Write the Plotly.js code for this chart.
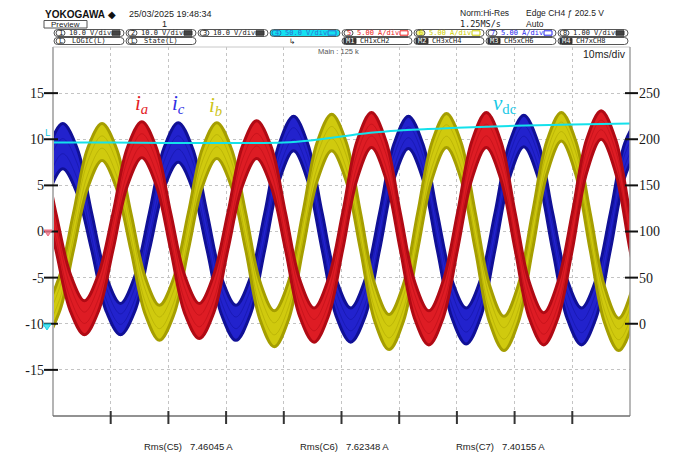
<!DOCTYPE html>
<html><head><meta charset="utf-8">
<script src="https://cdn.plot.ly/plotly-3.0.1.min.js"></script>
<style>html,body{margin:0;padding:0;background:#fff;}#chart{width:677px;height:452px;}</style>
</head><body><div id="chart"></div>
<script>
// ---- data read from the screen capture (time in ms, current in A, voltage in V) ----
// each phase is a thick persistence band: upper and lower edges of the band
const redTime  = [-4.5,-2.0,0.5,3.0,5.45,7.9,10.4,12.9,15.4,17.9,20.4,22.85,25.35,27.8,30.3,32.8,35.3,37.8,40.3,42.75,45.25,47.7,50.2,52.7,55.2,57.7,60.2,62.65,65.15,67.6,70.1,72.6,75.1,77.6,80.1,82.55,85.05,87.5,90.0,92.5,95.0,97.5,100.0,102.5,104.95];
const redUpper = [11.6,8.9,2.0,-4.6,-7.5,-4.6,2.0,9.1,11.9,9.1,2.0,-4.8,-7.8,-4.8,2.0,9.2,12.0,9.2,2.0,-5.2,-8.3,-5.2,2.0,9.8,12.9,9.8,2.0,-5.4,-8.6,-5.4,2.0,9.8,12.9,9.8,2.0,-5.5,-8.8,-5.5,2.0,10.0,13.1,10.0,2.0,-5.7,-9.0];
const redLower = [7.8,4.8,-2.0,-8.6,-11.2,-8.6,-2.0,5.0,8.0,5.0,-2.0,-8.9,-11.6,-8.9,-2.0,4.9,7.9,4.9,-2.0,-9.2,-12.0,-9.2,-2.0,5.7,9.1,5.7,-2.0,-9.4,-12.3,-9.4,-2.0,5.7,9.1,5.7,-2.0,-9.4,-12.3,-9.4,-2.0,6.4,10.0,6.4,-2.0,-9.5,-12.4];

const blueTime  = [-8.3,-5.8,-3.3,-0.8,1.7,4.2,6.7,9.2,11.7,14.2,16.7,19.2,21.7,24.2,26.7,29.2,31.7,34.2,36.7,39.2,41.7,44.15,46.65,49.1,51.6,54.1,56.6,59.1,61.6,64.1,66.6,69.1,71.6,74.1,76.6,79.1,81.6,84.1,86.6,89.1,91.6,94.1,96.6,99.1,101.6];
const blueUpper = [-7.6,-4.7,2.0,9.0,11.7,9.0,2.0,-4.8,-7.8,-4.8,2.0,9.0,11.8,9.0,2.0,-5.0,-8.0,-5.0,2.0,9.5,12.5,9.5,2.0,-5.2,-8.3,-5.2,2.0,9.5,12.5,9.5,2.0,-5.2,-8.3,-5.2,2.0,9.6,12.6,9.6,2.0,-5.2,-8.3,-5.2,2.0,9.6,12.6];
const blueLower = [-11.2,-8.6,-2.0,4.1,6.8,4.1,-2.0,-8.6,-11.2,-8.6,-2.0,4.6,7.5,4.6,-2.0,-9.0,-11.8,-9.0,-2.0,5.5,8.75,5.5,-2.0,-9.2,-12.0,-9.2,-2.0,5.7,9.0,5.7,-2.0,-9.3,-12.2,-9.3,-2.0,5.8,9.2,5.8,-2.0,-9.4,-12.3,-9.4,-2.0,5.9,9.3];

const yellowTime  = [-6.45,-3.95,-1.45,1.05,3.55,6.0,8.5,11.0,13.5,16.0,18.45,20.95,23.45,25.9,28.4,30.9,33.4,35.85,38.35,40.85,43.3,45.8,48.3,50.8,53.3,55.75,58.25,60.75,63.2,65.7,68.2,70.7,73.2,75.65,78.15,80.65,83.1,85.6,88.1,90.6,93.1,95.55,98.05,100.55,103.0];
const yellowUpper = [2.0,-5.0,-8.0,-5.0,2.0,9.0,11.7,9.0,2.0,-5.0,-8.0,-5.0,2.0,9.0,11.8,9.0,2.0,-5.4,-8.6,-5.4,2.0,9.7,12.7,9.7,2.0,-5.7,-9.0,-5.7,2.0,9.7,12.8,9.7,2.0,-5.8,-9.2,-5.8,2.0,9.8,12.9,9.8,2.0,-5.9,-9.4,-5.9,2.0];
const yellowLower = [-2.0,-8.8,-11.5,-8.8,-2.0,4.7,7.7,4.7,-2.0,-9.0,-11.8,-9.0,-2.0,4.9,7.9,4.9,-2.0,-9.5,-12.5,-9.5,-2.0,5.5,8.75,5.5,-2.0,-9.7,-12.8,-9.7,-2.0,5.7,9.1,5.7,-2.0,-9.8,-12.9,-9.8,-2.0,6.2,9.8,6.2,-2.0,-9.8,-12.9,-9.8,-2.0];

const vdcTime  = [0,10,20,30,40,45,50,55,60,65,70,80,90,100];
const vdcValue = [196.5,196.5,196,196,196.5,199,203,207,209.5,211,212.5,214.5,216,217];

const leftTicks  = [-15,-10,-5,0,5,10,15];
const rightTicks = [0,50,100,150,200,250];
const timeTicks  = [10,20,30,40,50,60,70,80,90];

const rmsLabels = ['Rms(C5)   7.46045 A','Rms(C6)   7.62348 A','Rms(C7)   7.40155 A'];
const chNumbers = ['1','2','3','4','5','6','7','8'];
const chScales  = ['10.0 V/div','10.0 V/div','10.0 V/div','50.0 V/div','5.00 A/div','5.00 A/div','5.00 A/div','1.00 V/div'];
const row2Tags  = ['L','L','','','M1','M2','M3','M4'];
const row2Text  = ['LOGIC(L)','State(L)','','','CH1xCH2','CH3xCH4','CH5xCH6','CH7xCH8'];

// ---- geometry helpers (pixel -> paper) ----
const L=53,R=630,T=47,B=416;
const X = x => (x-L)/(R-L);
const Y = y => (B-y)/(B-T);

const col = {
  red:   {fill:'rgb(222,28,36)',  line:'rgb(176,10,20)'},
  blue:  {fill:'rgb(34,34,205)',  line:'rgb(16,16,150)'},
  yellow:{fill:'rgb(208,202,14)', line:'rgb(165,158,0)'}
};

function band(t, lo, up, c){
  const tr = [
    {x:t, y:lo, type:'scatter', mode:'lines', line:{shape:'spline', color:c.line, width:3}, opacity:0.93, hoverinfo:'skip', showlegend:false},
    {x:t, y:up, type:'scatter', mode:'lines', fill:'tonexty', fillcolor:c.fill, line:{shape:'spline', color:c.line, width:3}, opacity:0.93, hoverinfo:'skip', showlegend:false}
  ];
  // faint inner striations of the persistence band (derived from the two edges)
  [1/3, 2/3].forEach(f => tr.push({x:t, y:lo.map((v,i)=>v+(up[i]-v)*f), type:'scatter', mode:'lines', line:{shape:'spline', color:c.line, width:1}, opacity:0.45, hoverinfo:'skip', showlegend:false}));
  return tr;
}

const data = [
  ...band(blueTime, blueLower, blueUpper, col.blue),
  ...band(yellowTime, yellowLower, yellowUpper, col.yellow),
  ...band(redTime, redLower, redUpper, col.red),
  {x:vdcTime, y:vdcValue, yaxis:'y2', type:'scatter', mode:'lines', line:{shape:'spline', color:'rgb(20,225,235)', width:2}, hoverinfo:'skip', showlegend:false}
];

const shapes = [];
const annotations = [];
const pline = (x0,y0,x1,y1,color,width) => shapes.push({type:'line', xref:'paper', yref:'paper', x0:X(x0), y0:Y(y0), x1:X(x1), y1:Y(y1), line:{color, width}});

// frame
pline(53,47,630,47,'#c8c8c8',1);
pline(53,47,53,416,'#b4b4b4',2);
pline(630,47,630,416,'#a0a0a0',1.5);
pline(53,416,630,416,'#6e6e6e',1.5);

// tick marks crossing the frame
leftTicks.forEach(v => shapes.push({type:'line', xref:'paper', yref:'y', x0:X(44), x1:X(58), y0:v, y1:v, line:{color:'#111', width:2}}));
rightTicks.forEach(v => shapes.push({type:'line', xref:'paper', yref:'y2', x0:X(625), x1:X(638), y0:v, y1:v, line:{color:'#111', width:2}}));
timeTicks.forEach(v => shapes.push({type:'line', xref:'x', yref:'paper', x0:v, x1:v, y0:Y(424), y1:Y(411), line:{color:'#333', width:2}}));

// channel markers on the left edge
shapes.push({type:'path', xref:'paper', yref:'paper', path:`M ${X(44)},${Y(230)} L ${X(52)},${Y(230)} L ${X(48)},${Y(236)} Z`, fillcolor:'rgba(240,120,140,0.8)', line:{color:'rgb(240,110,130)', width:1}});
shapes.push({type:'path', xref:'paper', yref:'paper', path:`M ${X(43)},${Y(324)} L ${X(51)},${Y(324)} L ${X(47)},${Y(330)} Z`, fillcolor:'rgba(40,220,235,0.8)', line:{color:'rgb(30,210,230)', width:1}});
annotations.push({text:'L', xref:'paper', yref:'paper', x:X(47), y:Y(133), showarrow:false, font:{family:'DejaVu Sans', size:9, color:'rgb(20,200,225)'}, xanchor:'center', yanchor:'middle'});

// phase labels
const lab = (txt, x, y, color) => annotations.push({text:txt, xref:'paper', yref:'paper', x:X(x), y:Y(y), showarrow:false, xanchor:'center', yanchor:'middle', font:{family:'Liberation Serif', size:21, color}});
lab('<i>i</i><sub><i>a</i></sub>', 141, 104, 'rgb(228,28,38)');
lab('<i>i</i><sub><i>c</i></sub>', 178, 104, 'rgb(48,48,228)');
lab('<i>i</i><sub><i>b</i></sub>', 215, 106, 'rgb(205,196,25)');
lab('<i>v</i><sub>dc</sub>', 505, 104, 'rgb(20,200,230)');

// header
const txt = (t, x, y, size, color, anchor, fam) => annotations.push({text:t, xref:'paper', yref:'paper', x:X(x), y:Y(y), showarrow:false, xanchor:anchor||'left', yanchor:'middle', font:{family:fam||'Liberation Sans', size, color:color||'#222'}});
txt('<b>YOKOGAWA</b>', 43, 14, 10, '#111');
txt('◆', 112, 14, 10, '#111', 'center', 'DejaVu Sans');
txt('25/03/2025 19:48:34', 127, 14, 9, '#222');
shapes.push({type:'rect', xref:'paper', yref:'paper', x0:X(44), x1:X(87), y0:Y(20.5), y1:Y(28), line:{color:'#555', width:1}});
txt('Preview', 65.5, 24.5, 8, '#222', 'center');
txt('1', 164, 23.5, 9, '#222', 'center');
txt('Norm:Hi-Res', 458, 13, 8.5, '#222');
txt('1.25MS/s', 458, 24.5, 8.5, '#222', 'left', 'DejaVu Sans Mono');
txt('Edge CH4 ƒ 202.5 V', 524, 13, 8.5, '#222');
txt('Auto', 524, 24.5, 8.5, '#222');
txt('Main : 125 k', 338, 52, 7.5, '#555', 'center');
txt('10ms/div', 628, 54, 10.5, '#222', 'right');

function pill(x0,y0,x1,y1,lineColor,fill){
  const r=(y1-y0)/2;
  const p = `M ${X(x0+r)},${Y(y0)} L ${X(x1-r)},${Y(y0)} Q ${X(x1)},${Y(y0)} ${X(x1)},${Y(y0+r)} Q ${X(x1)},${Y(y1)} ${X(x1-r)},${Y(y1)} L ${X(x0+r)},${Y(y1)} Q ${X(x0)},${Y(y1)} ${X(x0)},${Y(y0+r)} Q ${X(x0)},${Y(y0)} ${X(x0+r)},${Y(y0)} Z`;
  shapes.push({type:'path', xref:'paper', yref:'paper', path:p, line:{color:lineColor, width:1}, fillcolor:fill||'rgba(0,0,0,0)'});
}
const chColor = ['#222','#222','#222','#2f6fd0','rgb(235,30,30)','rgb(205,205,0)','rgb(40,40,235)','#222'];
chNumbers.forEach((n,k) => {
  const x0 = 53 + 72*k + 1, x1 = x0 + 70;
  pill(x0, 29.5, x1, 36.5, '#555', k===3 ? 'rgb(20,225,240)' : null);
  pill(x0+2, 30.3, x0+11, 35.7, k===3 ? '#1a80c0' : '#555', k===5 ? 'rgba(240,240,60,0.6)' : null);
  txt(n, x0+6.5, 33, 7, chColor[k], 'center', 'DejaVu Sans Mono');
  txt(chScales[k], x0+13, 33, 7, chColor[k], 'left', 'DejaVu Sans Mono');
  shapes.push({type:'rect', xref:'paper', yref:'paper', x0:X(x0+58), x1:X(x0+66), y0:Y(30.8), y1:Y(35.2), line:{color:(k<3||k===7)?'#333':chColor[k], width:1}, fillcolor:(k<3||k===7)?'#444':'rgba(0,0,0,0)'});
  if (row2Tags[k]) {
    pill(x0, 37.5, x1, 44.5, '#555');
    if (row2Tags[k]==='L') {
      pill(x0+2, 38.3, x0+11, 43.7, '#555');
      txt('L', x0+6.5, 41, 7, '#222', 'center', 'DejaVu Sans Mono');
    } else {
      shapes.push({type:'rect', xref:'paper', yref:'paper', x0:X(x0+2), x1:X(x0+14), y0:Y(38.3), y1:Y(43.7), line:{color:'#333', width:1}, fillcolor:'#333'});
      txt(row2Tags[k], x0+8, 41, 7, '#fff', 'center', 'DejaVu Sans Mono');
    }
    txt(row2Text[k], x0+16, 41, 7, '#222', 'left', 'DejaVu Sans Mono');
  }
});
txt('↳', 292, 41.5, 7.5, '#222', 'center', 'DejaVu Sans');

// bottom measurement read-outs
[142, 298, 454].forEach((x,i) => txt(rmsLabels[i], x, 447, 9.5, '#222', 'left', 'Liberation Sans'));

const gridStyle = {showgrid:true, gridcolor:'#c4c4c4', griddash:'dot', gridwidth:1, zeroline:false, showline:false, ticks:''};
const layout = {
  width:677, height:452,
  margin:{l:53, r:47, t:47, b:36, pad:0},
  paper_bgcolor:'#fff', plot_bgcolor:'#fff',
  showlegend:false,
  xaxis:Object.assign({range:[0,100], tickvals:timeTicks, showticklabels:false, fixedrange:true}, gridStyle),
  yaxis:Object.assign({range:[-20,20], tickvals:leftTicks, ticktext:leftTicks.map(String), tickfont:{family:'Liberation Serif', size:14, color:'#1a1a1a'}, ticklabelstandoff:8, fixedrange:true}, gridStyle),
  yaxis2:{range:[-100,300], overlaying:'y', side:'right', tickvals:rightTicks, ticktext:rightTicks.map(String), tickfont:{family:'Liberation Serif', size:14, color:'#1a1a1a'}, showgrid:false, zeroline:false, showline:false, ticks:'', ticklabelstandoff:8, fixedrange:true},
  shapes, annotations
};
Plotly.newPlot('chart', data, layout, {staticPlot:true, displayModeBar:false});
</script></body></html>
